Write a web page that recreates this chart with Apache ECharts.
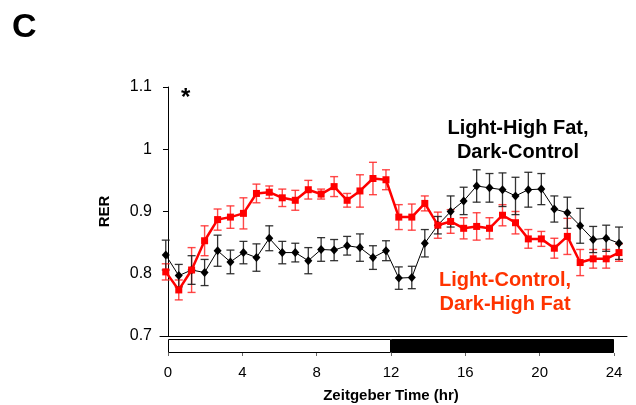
<!DOCTYPE html>
<html>
<head>
<meta charset="utf-8">
<script src="https://cdn.jsdelivr.net/npm/echarts@6/dist/echarts.min.js"></script>
<style>
  html, body { margin: 0; padding: 0; background: #fff; }
  #chart { width: 636px; height: 405px; }
</style>
</head>
<body>
<div id="chart"></div>
<script>
// time of each bin (hr)
const hours = [-0.12, 0.58, 1.27, 1.97, 2.67, 3.36, 4.06, 4.76, 5.45, 6.15, 6.85, 7.55,
  8.24, 8.94, 9.64, 10.33, 11.03, 11.73, 12.42, 13.12, 13.82, 14.52, 15.21, 15.91,
  16.61, 17.30, 18.00, 18.70, 19.39, 20.09, 20.79, 21.49, 22.18, 22.88, 23.58, 24.27];

// Light-High Fat, Dark-Control (black)
const rerHfLight = [0.830, 0.797, 0.806, 0.802, 0.837, 0.819, 0.834, 0.826, 0.857, 0.834, 0.834, 0.821,
  0.839, 0.838, 0.845, 0.842, 0.826, 0.837, 0.793, 0.794, 0.849, 0.878, 0.900, 0.917,
  0.941, 0.938, 0.935, 0.925, 0.935, 0.936, 0.904, 0.898, 0.877, 0.855, 0.857, 0.849];
const semHfLight = [0.024, 0.018, 0.023, 0.021, 0.025, 0.019, 0.018, 0.022, 0.020, 0.018, 0.015, 0.021,
  0.019, 0.017, 0.015, 0.022, 0.019, 0.016, 0.018, 0.018, 0.022, 0.014, 0.025, 0.022,
  0.026, 0.023, 0.027, 0.030, 0.028, 0.025, 0.021, 0.025, 0.028, 0.021, 0.021, 0.026];

// Light-Control, Dark-High Fat (red)
const rerHfDark = [0.803, 0.774, 0.806, 0.853, 0.887, 0.891, 0.897, 0.929, 0.931, 0.922, 0.918, 0.935,
  0.928, 0.940, 0.918, 0.933, 0.953, 0.951, 0.891, 0.891, 0.913, 0.878, 0.884, 0.873,
  0.876, 0.873, 0.894, 0.882, 0.856, 0.856, 0.841, 0.860, 0.818, 0.824, 0.824, 0.834];
const semHfDark = [0.013, 0.016, 0.036, 0.024, 0.017, 0.018, 0.025, 0.015, 0.010, 0.014, 0.016, 0.015,
  0.008, 0.016, 0.011, 0.026, 0.026, 0.016, 0.020, 0.021, 0.012, 0.021, 0.019, 0.017,
  0.022, 0.017, 0.017, 0.018, 0.015, 0.012, 0.016, 0.029, 0.021, 0.015, 0.015, 0.014];

const yTicks = [0.7, 0.8, 0.9, 1.0, 1.1];
const xTicks = [0, 4, 8, 12, 16, 20, 24];
const lightPhase = [12]; // hours of light
const darkPhase = [12];  // hours of dark

const font = 'Liberation Sans, Arial, sans-serif';
const RED = '#ff0000';

function pts(vals) {
  return hours.map((h, i) => [h, vals[i]]);
}
function errs(vals, sem) {
  return hours.map((h, i) => [h, vals[i] - sem[i], vals[i] + sem[i]]);
}

function errorBar(color, width) {
  return function (params, api) {
    const x = api.value(0);
    const lo = api.coord([x, api.value(1)]);
    const hi = api.coord([x, api.value(2)]);
    const half = 4;
    const style = { stroke: color, lineWidth: width };
    return {
      type: 'group',
      children: [
        { type: 'line', shape: { x1: lo[0], y1: lo[1], x2: hi[0], y2: hi[1] }, style: style },
        { type: 'line', shape: { x1: lo[0] - half, y1: lo[1], x2: lo[0] + half, y2: lo[1] }, style: style },
        { type: 'line', shape: { x1: hi[0] - half, y1: hi[1], x2: hi[0] + half, y2: hi[1] }, style: style }
      ]
    };
  };
}

const chart = echarts.init(document.getElementById('chart'));

const option = {
  animation: false,
  backgroundColor: '#fff',
  textStyle: { fontFamily: font },
  grid: [
    { left: 160, right: 9, top: 87, bottom: 69 },
    { left: 168, right: 22, top: 339, height: 14 }
  ],
  xAxis: [
    {
      gridIndex: 0, type: 'value', min: -0.43, max: 24.7,
      axisLine: { show: true, onZero: false, lineStyle: { color: '#000', width: 1 } },
      axisTick: { show: false }, axisLabel: { show: false }, splitLine: { show: false }
    },
    {
      gridIndex: 1, type: 'value', min: 0, max: 24, interval: 4,
      axisLine: { show: false },
      axisTick: { show: true, length: 3, lineStyle: { color: '#666' } },
      axisLabel: {
        margin: 12, color: '#000', fontSize: 15, fontFamily: font,
        formatter: v => (xTicks.indexOf(v) >= 0 ? String(v) : '')
      },
      splitLine: { show: false },
      name: 'Zeitgeber Time (hr)', nameLocation: 'middle', nameGap: 35,
      nameTextStyle: { fontSize: 15, fontWeight: 'bold', color: '#000', fontFamily: font }
    }
  ],
  yAxis: [
    {
      gridIndex: 0, type: 'value', min: 0.7, max: 1.1, interval: 0.1,
      axisLine: { show: true, lineStyle: { color: '#000', width: 1 } },
      axisTick: { show: true, length: 5, lineStyle: { color: '#000' } },
      axisLabel: {
        margin: 8, color: '#000', fontSize: 16, fontFamily: font,
        formatter: v => {
          const t = yTicks.find(k => Math.abs(k - v) < 1e-6);
          return t === undefined ? '' : String(parseFloat(t.toFixed(1)));
        }
      },
      splitLine: { show: false },
      name: 'RER', nameLocation: 'middle', nameGap: 48, nameRotate: 90,
      nameTextStyle: { fontSize: 15, fontWeight: 'bold', color: '#000', fontFamily: font }
    },
    {
      gridIndex: 1, type: 'category', data: ['LD'],
      axisLine: { show: false }, axisTick: { show: false }, axisLabel: { show: false }
    }
  ],
  series: [
    {
      type: 'custom', xAxisIndex: 0, yAxisIndex: 0, z: 2,
      renderItem: errorBar('rgba(255,40,40,0.85)', 1.4),
      encode: { x: 0, y: [1, 2] },
      data: errs(rerHfDark, semHfDark)
    },
    {
      type: 'custom', xAxisIndex: 0, yAxisIndex: 0, z: 3,
      renderItem: errorBar('rgba(30,30,30,0.9)', 1.3),
      encode: { x: 0, y: [1, 2] },
      data: errs(rerHfLight, semHfLight)
    },
    {
      name: 'Light-High Fat, Dark-Control', type: 'line', xAxisIndex: 0, yAxisIndex: 0, z: 4,
      data: pts(rerHfLight),
      symbol: 'diamond', symbolSize: [8, 9],
      lineStyle: { color: '#000', width: 1 },
      itemStyle: { color: '#000' }
    },
    {
      name: 'Light-Control, Dark-High Fat', type: 'line', xAxisIndex: 0, yAxisIndex: 0, z: 5,
      data: pts(rerHfDark),
      symbol: 'rect', symbolSize: 7,
      lineStyle: { color: RED, width: 2.5 },
      itemStyle: { color: RED }
    },
    {
      type: 'bar', xAxisIndex: 1, yAxisIndex: 1, stack: 'ld', barWidth: '100%',
      data: lightPhase,
      itemStyle: { color: '#fff', borderColor: '#000', borderWidth: 1 }
    },
    {
      type: 'bar', xAxisIndex: 1, yAxisIndex: 1, stack: 'ld', barWidth: '100%',
      data: darkPhase,
      itemStyle: { color: '#000', borderColor: '#000', borderWidth: 1 }
    }
  ],
  graphic: [
    { type: 'text', left: 12, top: 11, style: { text: 'C', font: 'bold 34px ' + font, fill: '#000' } },
    { type: 'text', left: 181, top: 86, style: { text: '*', font: 'bold 24px ' + font, fill: '#000' } },
    {
      type: 'text', x: 518, y: 116,
      style: {
        text: 'Light-High Fat,\nDark-Control', font: 'bold 20px ' + font, fill: '#000',
        align: 'center', lineHeight: 24
      }
    },
    {
      type: 'text', x: 505, y: 268,
      style: {
        text: 'Light-Control,\nDark-High Fat', font: 'bold 20px ' + font, fill: '#ff3300',
        align: 'center', lineHeight: 24
      }
    }
  ]
};

chart.setOption(option);
</script>
</body>
</html>
